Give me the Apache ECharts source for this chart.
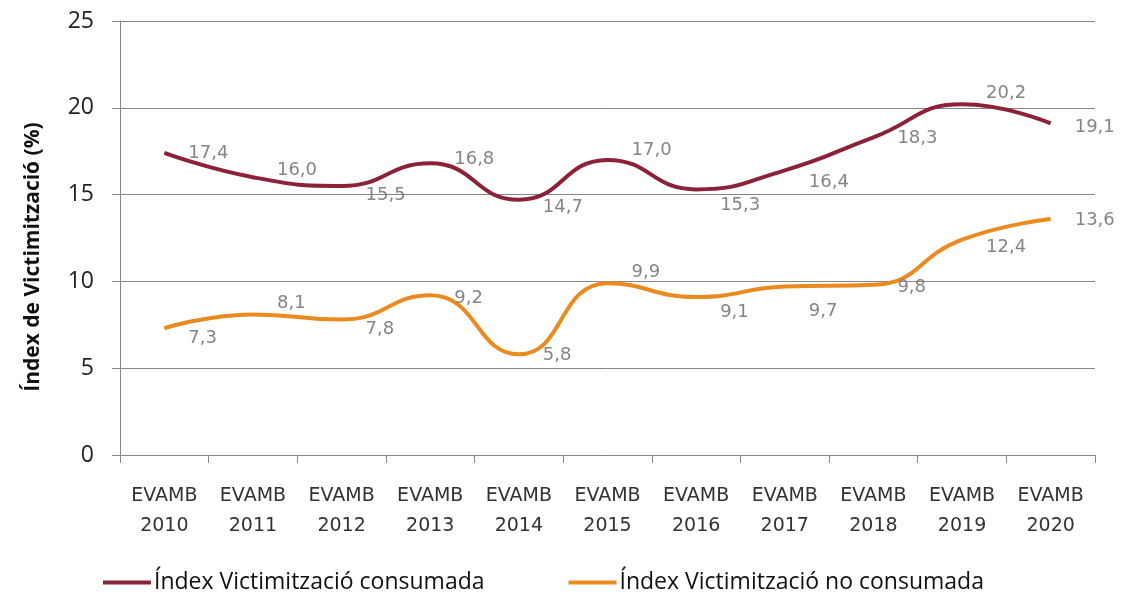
<!DOCTYPE html>
<html>
<head>
<meta charset="utf-8">
<script src="https://cdn.jsdelivr.net/npm/echarts@6/dist/echarts.min.js"></script>
<style>
html,body{margin:0;padding:0;background:#fff;}
#chart{width:1130px;height:601px;}
</style>
</head>
<body>
<div id="chart"></div>
<script>
var categories = ['EVAMB\n2010','EVAMB\n2011','EVAMB\n2012','EVAMB\n2013','EVAMB\n2014','EVAMB\n2015','EVAMB\n2016','EVAMB\n2017','EVAMB\n2018','EVAMB\n2019','EVAMB\n2020'];
var consumada = [17.4, 16.0, 15.5, 16.8, 14.7, 17.0, 15.3, 16.4, 18.3, 20.2, 19.1];
var noConsumada = [7.3, 8.1, 7.8, 9.2, 5.8, 9.9, 9.1, 9.7, 9.8, 12.4, 13.6];
var seriesNames = ['Índex Victimització consumada', 'Índex Victimització no consumada'];
var yAxisName = 'Índex de Victimització (%)';

// label vertical nudges (style only)
var consLabelDy = [0, -7, 9, -4, 8, -10, 16, 12, 1, -11, 4];
var noLabelDy = [10, -11, 10, 3, 1, -11, 15, 25, 2, 8, 1];

function build(vals, dys){
  return vals.map(function(v, i){
    return { value: v, label: { offset: [0, dys[i]] } };
  });
}

var chart = echarts.init(document.getElementById('chart'));
function labelStyle(){
  return {
    show: true,
    position: 'right',
    distance: 24,
    color: '#858585',
    fontFamily: 'DejaVu Sans',
    fontSize: 18,
    formatter: function(p){ return p.value.toFixed(1).replace('.', ','); }
  };
}
chart.setOption({
  animation: false,
  backgroundColor: '#ffffff',
  grid: { left: 120, right: 35, top: 21, bottom: 146, containLabel: false },
  legend: {
    left: 103,
    top: 571,
    padding: 0,
    itemWidth: 48,
    itemHeight: 4,
    itemGap: 84,
    icon: 'rect',
    textStyle: { fontFamily: 'Open Sans', fontSize: 23, color: '#111', padding: [0,0,0,-2] },
    data: seriesNames
  },
  xAxis: {
    type: 'category',
    data: categories,
    boundaryGap: true,
    axisLine: { lineStyle: { color: '#868686', width: 1 } },
    axisTick: { show: true, length: 8, lineStyle: { color: '#868686' } },
    axisLabel: { margin: 26, lineHeight: 30, fontFamily: 'DejaVu Sans', fontSize: 19, color: '#333' }
  },
  yAxis: {
    type: 'value',
    min: 0, max: 25, interval: 5,
    name: yAxisName,
    nameLocation: 'middle',
    nameGap: 76,
    nameRotate: 90,
    nameTextStyle: { fontFamily: 'Open Sans', fontWeight: 'bold', fontSize: 21, color: '#111', padding: [0, 38, 0, 0] },
    axisLine: { show: true, lineStyle: { color: '#868686', width: 1 } },
    axisTick: { show: true, length: 8, lineStyle: { color: '#868686' } },
    axisLabel: { margin: 26, fontFamily: 'Open Sans', fontSize: 23, color: '#222' },
    splitLine: { show: true, lineStyle: { color: '#868686', width: 1 } }
  },
  series: [
    {
      name: seriesNames[0],
      type: 'line',
      smooth: 0.5,
      symbol: 'circle',
      symbolSize: 0,
      showSymbol: true,
      data: build(consumada, consLabelDy),
      itemStyle: { color: '#8C2238' },
      lineStyle: { color: '#8C2238', width: 4 },
      label: labelStyle()
    },
    {
      name: seriesNames[1],
      type: 'line',
      smooth: 0.5,
      symbol: 'circle',
      symbolSize: 0,
      showSymbol: true,
      data: build(noConsumada, noLabelDy),
      itemStyle: { color: '#EB8A1E' },
      lineStyle: { color: '#EB8A1E', width: 4 },
      label: labelStyle()
    }
  ]
});
</script>
</body>
</html>
